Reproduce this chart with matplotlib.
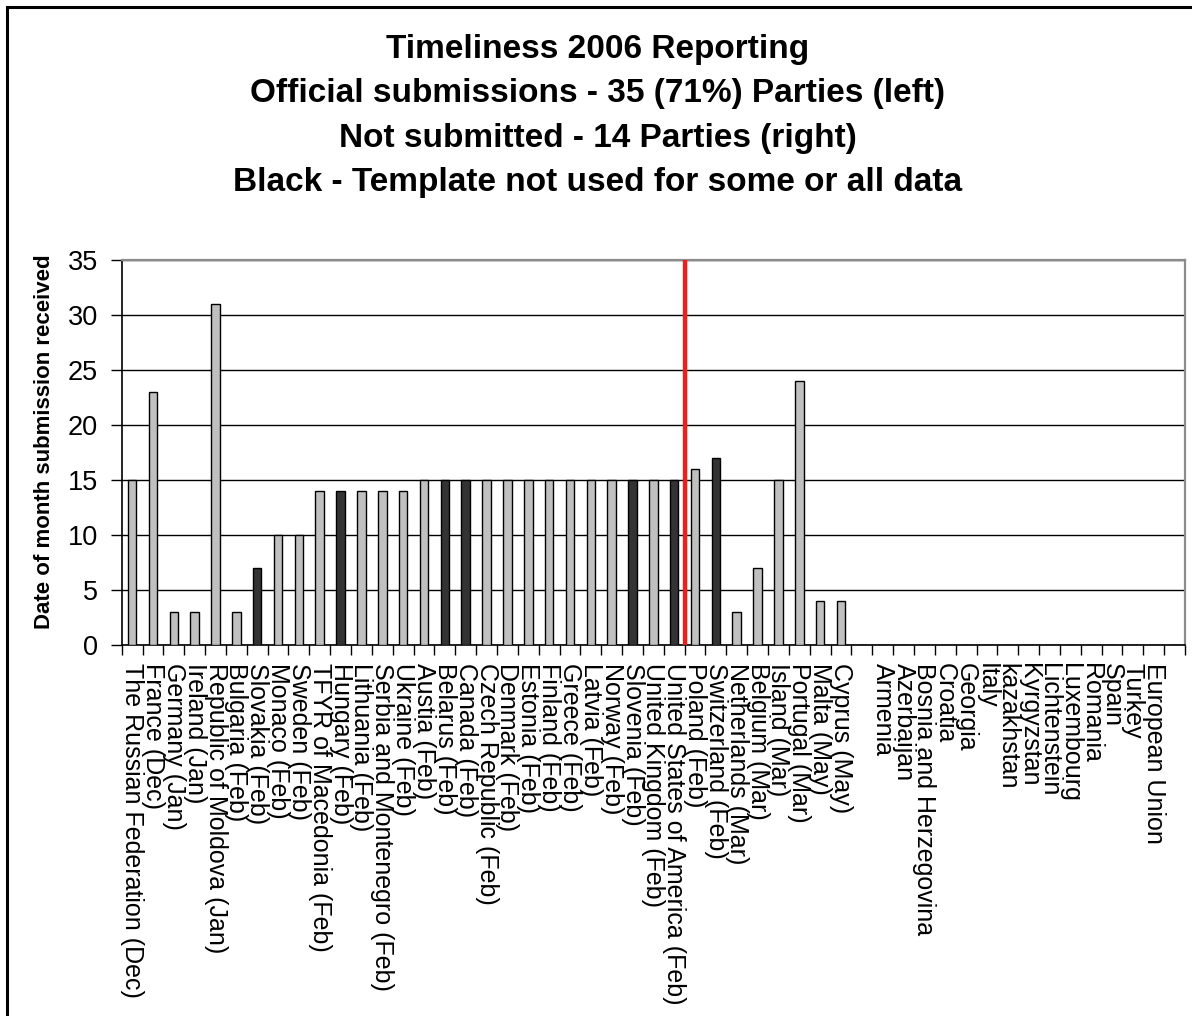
import matplotlib
matplotlib.use("Agg")
import matplotlib.pyplot as plt
from matplotlib.patches import Rectangle

plt.rcParams["font.family"] = ["Liberation Sans", "DejaVu Sans"]

# Parties in order of submission; blank names are spacer slots
parties = [
    "The Russian Federation (Dec)", "France (Dec)", "Germany (Jan)", "Ireland (Jan)",
    "Republic of Moldova (Jan)", "Bulgaria (Feb)", "Slovakia (Feb)", "Monaco (Feb)",
    "Sweden (Feb)", "TFYR of Macedonia (Feb)", "Hungary (Feb)", "Lithuania (Feb)",
    "Serbia and Montenegro (Feb)", "Ukraine (Feb)", "Austia (Feb)", "Belarus (Feb)",
    "Canada (Feb)", "Czech Republic (Feb)", "Denmark (Feb)", "Estonia (Feb)",
    "Finland (Feb)", "Greece (Feb)", "Latvia (Feb)", "Norway (Feb)", "Slovenia (Feb)",
    "United Kingdom (Feb)", "United States of America (Feb)", "Poland (Feb)",
    "Switzerland (Feb)", "Netherlands (Mar)", "Belgium (Mar)", "Island (Mar)",
    "Portugal (Mar)", "Malta (May)", "Cyprus (May)",
    "",
    "Armenia", "Azerbaijan", "Bosnia and Herzegovina", "Croatia", "Georgia", "Italy",
    "kazakhstan", "Kyrgyzstan", "Lichtenstein", "Luxembourg", "Romania", "Spain",
    "Turkey", "European Union",
    "",
]

# Day of month the submission arrived (0 = nothing received)
day_received = [
    15, 23, 3, 3, 31, 3, 7, 10, 10, 14, 14, 14, 14, 14, 15, 15, 15, 15, 15, 15,
    15, 15, 15, 15, 15, 15, 15, 16, 17, 3, 7, 15, 24, 4, 4,
    0,
    0, 0, 0, 0, 0, 0, 0, 0, 0, 0, 0, 0, 0, 0,
    0,
]

# Parties that did not use the reporting template for some or all data
template_not_used = [
    "Slovakia (Feb)", "Hungary (Feb)", "Belarus (Feb)", "Canada (Feb)",
    "Slovenia (Feb)", "United States of America (Feb)", "Switzerland (Feb)",
]

# Separator between the two groups of Parties (slot boundary)
split_after = 26.5

title_lines = [
    "Timeliness 2006 Reporting",
    "Official submissions - 35 (71%) Parties (left)",
    "Not submitted - 14 Parties (right)",
    "Black - Template not used for some or all data",
]

W, H = 1192, 1016
fig = plt.figure(figsize=(W / 100, H / 100), dpi=100)
fig.patch.set_facecolor("white")

# outer frame: only the left and top edges fall inside the canvas
fig.add_artist(Rectangle((6.5 / W, -0.1), 1.2, 1.1 - 7 / H, transform=fig.transFigure,
                         fill=False, edgecolor="black", linewidth=2.2))

ax = fig.add_axes([121.7 / W, 1 - 645 / H, (1185 - 121.7) / W, (645 - 260) / H])

x = list(range(len(parties)))
colors = ["#333333" if p in template_not_used else "#C0C0C0" for p in parties]
ax.bar(x, day_received, width=0.41, color=colors, edgecolor="black", linewidth=1.0, zorder=3)

ax.axvline(split_after, color="#E8201E", linewidth=3.2, zorder=4)

ax.set_xlim(-0.5, len(parties) - 0.5)
ax.set_ylim(0, 35)
ax.set_yticks(range(0, 36, 5))
ax.yaxis.grid(True, color="black", linewidth=1.0, zorder=0)
ax.set_axisbelow(True)

# labels sit at slot centres, tick marks at slot boundaries
ax.set_xticks(x)
ax.set_xticklabels(parties, rotation=270, fontsize=18, va="top", ha="center")
ax.tick_params(axis="x", which="major", length=0, pad=13)
ax.set_xticks([i - 0.5 for i in range(len(parties) + 1)], minor=True)
ax.tick_params(axis="x", which="minor", length=7, width=1.0, direction="out")
ax.tick_params(axis="y", length=8, width=1.0, direction="out", labelsize=19.5, pad=9)

for side in ("left", "bottom"):
    ax.spines[side].set_color("black")
    ax.spines[side].set_linewidth(1.2)
for side in ("top", "right"):
    ax.spines[side].set_color("#8C8C8C")
    ax.spines[side].set_linewidth(1.6)

fig.text(45 / W, 1 - 442 / H, "Date of month submission received", rotation=90,
         fontsize=16, fontweight="bold", ha="center", va="center")

fig.text(598 / W, 1 - 116 / H, "\n".join(title_lines), fontsize=24, fontweight="bold",
         ha="center", va="center", linespacing=1.56)

fig.savefig("out.png", dpi=100)
